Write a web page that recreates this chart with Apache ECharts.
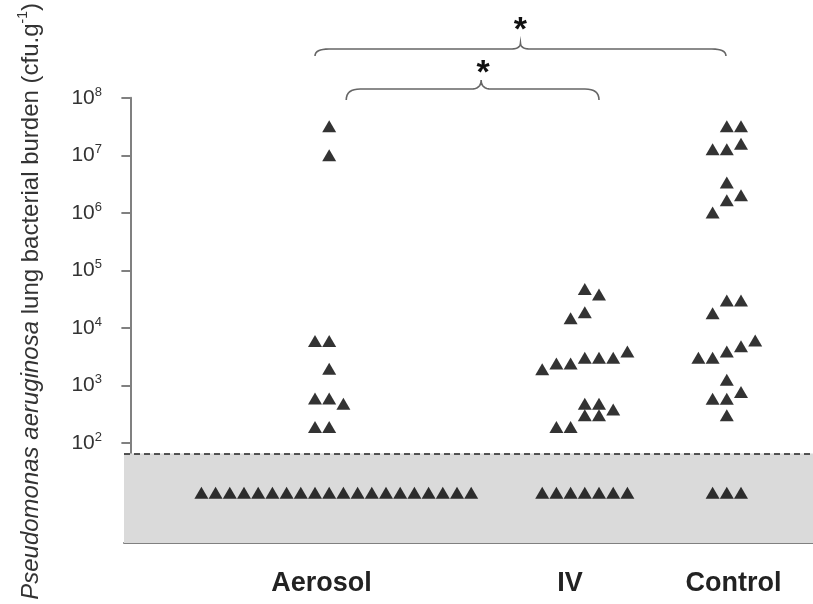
<!DOCTYPE html>
<html>
<head>
<meta charset="utf-8">
<script src="https://cdn.jsdelivr.net/npm/echarts@6/dist/echarts.min.js"></script>
<style>
  html, body { margin: 0; padding: 0; background: #fff; }
  #chart { width: 813px; height: 604px; }
</style>
</head>
<body>
<div id="chart"></div>
<script>
// group labels and where they sit on the x axis (in marker-column units)
var groups = ['Aerosol', 'IV', 'Control'];
var groupPos = [13.46, 30.96, 42.47];

// y ticks (cfu/g)
var yTicks = [1e2, 1e3, 1e4, 1e5, 1e6, 1e7, 1e8];
var yMin = 1.82;
var detectionLimit = 65.5;
var belowLimit = 13.6;

// points above the detection limit: [column, cfu/g]
var aerosolPts = [
  [14, 3.2e7], [14, 1.0e7], [13, 5900], [14, 5900], [14, 1950],
  [13, 590], [14, 590], [15, 480], [13, 190], [14, 190]
];
var ivPts = [
  [32, 47500], [33, 37900], [31, 14700], [32, 18700],
  [29, 1900], [30, 2400], [31, 2400], [32, 3030], [33, 3030], [34, 3030], [35, 3890],
  [32, 482], [33, 482], [32, 302], [33, 302], [34, 380], [30, 190], [31, 190]
];
var controlPts = [
  [42, 3.2e7], [43, 3.2e7], [41, 1.27e7], [42, 1.27e7], [43, 1.59e7],
  [42, 3.36e6], [43, 2.03e6], [42, 1.66e6], [41, 1.01e6],
  [42, 29800], [43, 29800], [41, 17900],
  [40, 3030], [41, 3030], [42, 3890], [43, 4810], [44, 6040],
  [42, 1260], [41, 589], [42, 589], [43, 766], [42, 302]
];
// columns of animals below the detection limit
var aerosolBelow = [5, 6, 7, 8, 9, 10, 11, 12, 13, 14, 15, 16, 17, 18, 19, 20, 21, 22, 23, 24];
var ivBelow = [29, 30, 31, 32, 33, 34, 35];
var controlBelow = [41, 42, 43];

function withBelow(pts, cols) {
  return pts.concat(cols.map(function (c) { return [c, belowLimit]; }));
}

var chart = echarts.init(document.getElementById('chart'));

var tri = {
  type: 'scatter',
  symbol: 'triangle',
  symbolSize: [14, 12],
  itemStyle: { color: '#000' },
  z: 5,
  silent: true
};

var option = {
  animation: false,
  grid: { left: 124, right: 0, top: 97, bottom: 61 },
  xAxis: {
    type: 'value',
    min: -0.45,
    max: 48.07,
    splitLine: { show: false },
    axisLine: { lineStyle: { color: '#808080', width: 2 } },
    axisTick: { show: false },
    axisLabel: {
      customValues: groupPos,
      margin: 27,
      fontFamily: 'Liberation Sans, Arial',
      fontWeight: 'bold',
      fontSize: 27,
      color: '#222',
      formatter: function (v) {
        var i = groupPos.indexOf(v);
        return i >= 0 ? groups[i] : '';
      }
    }
  },
  yAxis: {
    type: 'log',
    logBase: 10,
    min: yMin,
    max: 1e8,
    splitLine: { show: false },
    axisLine: { lineStyle: { color: '#808080', width: 2 } },
    axisTick: { customValues: yTicks, length: 9, lineStyle: { color: '#808080', width: 2 } },
    axisLabel: {
      customValues: yTicks,
      margin: 22,
      formatter: function (v) {
        return '{b|10}{s|' + Math.round(Math.log10(v)) + '}';
      },
      rich: {
        b: { fontFamily: 'Liberation Sans', fontSize: 21, color: '#333', lineHeight: 24 },
        s: { fontFamily: 'Liberation Sans', fontSize: 13, color: '#333', lineHeight: 12, verticalAlign: 'top' }
      }
    },
    name: '{i|Pseudomonas aeruginosa}{n| lung bacterial burden (cfu.g}{s|-1}{n|)}',
    nameLocation: 'middle',
    nameRotate: 90,
    nameGap: 78,
    nameTextStyle: {
      padding: [0, 0, 0, 38],
      rich: {
        i: { fontFamily: 'Liberation Sans', fontStyle: 'italic', fontSize: 24, color: '#333', lineHeight: 30 },
        n: { fontFamily: 'Liberation Sans', fontSize: 24, color: '#333', lineHeight: 30 },
        s: { fontFamily: 'Liberation Sans', fontSize: 14, color: '#333', lineHeight: 14, verticalAlign: 'top' }
      }
    }
  },
  series: [
    {
      type: 'line',
      data: [],
      z: 1,
      markArea: {
        silent: true,
        itemStyle: { color: '#dadada' },
        data: [[{ yAxis: yMin }, { yAxis: detectionLimit }]]
      },
      markLine: {
        silent: true,
        symbol: 'none',
        label: { show: false },
        lineStyle: { color: '#222', width: 1.5, type: [6, 4] },
        data: [{ yAxis: detectionLimit }]
      }
    },
    Object.assign({ name: 'Aerosol', data: withBelow(aerosolPts, aerosolBelow) }, tri),
    Object.assign({ name: 'IV', data: withBelow(ivPts, ivBelow) }, tri),
    Object.assign({ name: 'Control', data: withBelow(controlPts, controlBelow) }, tri)
  ]
};
chart.setOption(option);

// significance braces between groups (sampled curly brace as a polyline)
function px(col) { return chart.convertToPixel({ xAxisIndex: 0 }, col); }
function quad(pts, p0, c, p1) {
  for (var k = 1; k <= 8; k++) {
    var t = k / 8, u = 1 - t;
    pts.push([u * u * p0[0] + 2 * u * t * c[0] + t * t * p1[0],
              u * u * p0[1] + 2 * u * t * c[1] + t * t * p1[1]]);
  }
}
function brace(x1, x2, xm, yLine, yEnd, yCusp) {
  var r = 14, pts = [[x1, yEnd]];
  quad(pts, [x1, yEnd], [x1, yLine], [x1 + r, yLine]);
  pts.push([xm - 10, yLine]);
  quad(pts, [xm - 10, yLine], [xm, yLine], [xm, yCusp]);
  quad(pts, [xm, yCusp], [xm, yLine], [xm + 10, yLine]);
  pts.push([x2 - r, yLine]);
  quad(pts, [x2 - r, yLine], [x2, yLine], [x2, yEnd]);
  return pts;
}
var o1 = px(13), o2 = px(41.94), om = (o1 + o2) / 2;
var i1 = px(15.2), i2 = px(33), im = px(24.7);
chart.setOption({
  graphic: [
    { type: 'polyline', shape: { points: brace(o1, o2, om, 49, 56, 43) }, style: { fill: null, stroke: '#666', lineWidth: 1.6 } },
    { type: 'polyline', shape: { points: brace(i1, i2, im, 89, 100, 80) }, style: { fill: null, stroke: '#666', lineWidth: 1.6 } },
    { type: 'text', x: om, y: 31, style: { text: '*', font: 'bold 34px Liberation Sans', fill: '#111', align: 'center', verticalAlign: 'middle' } },
    { type: 'text', x: im + 2, y: 74, style: { text: '*', font: 'bold 34px Liberation Sans', fill: '#111', align: 'center', verticalAlign: 'middle' } }
  ]
});
</script>
</body>
</html>
